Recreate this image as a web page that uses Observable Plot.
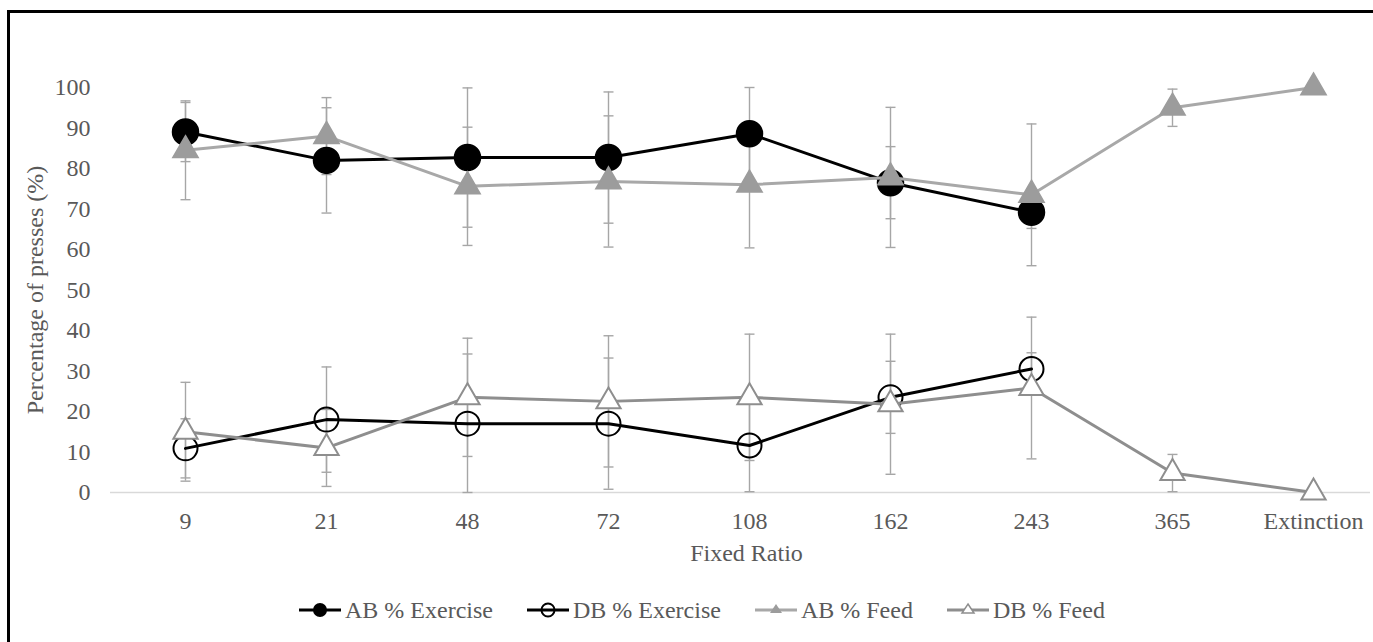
<!DOCTYPE html>
<html>
<head>
<meta charset="utf-8">
<script src="https://cdn.jsdelivr.net/npm/d3@7"></script>
<script src="https://cdn.jsdelivr.net/npm/@observablehq/plot@0.6"></script>
<style>
  html, body { margin: 0; padding: 0; background: #fff; overflow: hidden; }
  #wrap { position: relative; width: 1373px; height: 642px; overflow: hidden; }
  #frame { position: absolute; left: 7px; top: 10px; width: 1420px; height: 700px; border: 3px solid #000; pointer-events: none; }
  #chart { position: absolute; left: 0; top: 0; }
  #legend { position: absolute; left: 298px; top: 596px; height: 28px; display: flex; align-items: center;
            font-family: "Liberation Serif", "Times New Roman", Tinos, "DejaVu Serif", serif; font-size: 24px; color: #595959; white-space: nowrap; }
  .item { display: flex; align-items: center; margin-right: 33px; }
  .item svg { display: block; }
  .item span { margin-left: 3px; }
</style>
</head>
<body>
<div id="wrap">
  <div id="chart"></div>
  <div id="legend"></div>
  <div id="frame"></div>
</div>
<script>
// ---- data ----
const categories = ["9", "21", "48", "72", "108", "162", "243", "365", "Extinction"];
const abExercise = [89, 82, 82.7, 82.7, 88.6, 76.5, 69.2, null, null];
const dbExercise = [10.9, 18, 17, 17, 11.6, 23.5, 30.5, null, null];
const abFeed     = [84.5, 88, 75.6, 76.8, 76, 77.8, 73.5, 95, 100];
const dbFeed     = [15, 11, 23.5, 22.5, 23.5, 21.8, 25.8, 4.8, 0];
const exerciseErr = [7.3, 13, 17.2, 16.2, 11.4, 8.9, 4, null, null];
const feedErr     = [12.2, 9.5, 14.6, 16.2, 15.6, 17.3, 17.5, 4.6, 0];
const yTicks = [0, 10, 20, 30, 40, 50, 60, 70, 80, 90, 100];
const seriesNames = ["AB % Exercise", "DB % Exercise", "AB % Feed", "DB % Feed"];

const seriesDefs = [
  {name: seriesNames[0], values: abExercise, err: exerciseErr},
  {name: seriesNames[1], values: dbExercise, err: exerciseErr},
  {name: seriesNames[2], values: abFeed, err: feedErr},
  {name: seriesNames[3], values: dbFeed, err: feedErr}
];
const rows = seriesDefs.flatMap(s => categories.map((c, i) => ({
  cat: c, series: s.name, value: s.values[i], err: s.err[i]
}))).filter(d => d.value != null);
const errRows = rows.filter(d => d.err > 0).map(d => ({
  ...d, lo: Math.max(0, d.value - d.err), hi: d.value + d.err
}));
const of = name => rows.filter(d => d.series === name);

const capSymbol = {draw(ctx) { ctx.moveTo(-5, 0); ctx.lineTo(5, 0); }};

const FONT = "'Liberation Serif', 'Times New Roman', Tinos, 'DejaVu Serif', serif";

const chart = Plot.plot({
  width: 1373,
  height: 575,
  marginLeft: 110,
  marginRight: 3,
  marginTop: 87,
  marginBottom: 83,
  style: {fontFamily: FONT, fontSize: "24px", color: "#595959", background: "transparent"},
  x: {type: "point", domain: categories, range: [182, 1315], padding: 0},
  y: {domain: [0, 100]},
  marks: [
    Plot.ruleY([0], {stroke: "#d9d9d9", strokeWidth: 1.5}),
    Plot.axisY({ticks: yTicks, tickSize: 0, tickPadding: 20, label: null, fontFamily: FONT}),
    Plot.axisX({tickSize: 0, tickPadding: 19, label: null, fontFamily: FONT}),
    Plot.text(["Fixed Ratio"], {frameAnchor: "bottom", dx: 6, dy: 61, textAnchor: "middle", lineAnchor: "middle", fill: "#595959", fontFamily: FONT}),
    Plot.text(["Percentage of presses (%)"], {frameAnchor: "left", dx: -75, rotate: -90, textAnchor: "middle", lineAnchor: "middle", fill: "#595959", fontFamily: FONT}),
    // error bars
    Plot.ruleX(errRows, {x: "cat", y1: "lo", y2: "hi", stroke: "#a6a6a6", strokeWidth: 1.4}),
    Plot.dot(errRows, {x: "cat", y: "lo", symbol: capSymbol, fill: "none", stroke: "#a6a6a6", strokeWidth: 1.4}),
    Plot.dot(errRows, {x: "cat", y: "hi", symbol: capSymbol, fill: "none", stroke: "#a6a6a6", strokeWidth: 1.4}),
    // AB % Exercise
    Plot.line(of(seriesNames[0]), {x: "cat", y: "value", stroke: "#000", strokeWidth: 3}),
    Plot.dot(of(seriesNames[0]), {x: "cat", y: "value", r: 13, fill: "#000", stroke: "#000"}),
    // DB % Exercise
    Plot.line(of(seriesNames[1]), {x: "cat", y: "value", stroke: "#000", strokeWidth: 3}),
    Plot.dot(of(seriesNames[1]), {x: "cat", y: "value", r: 12, fill: "none", stroke: "#000", strokeWidth: 2}),
    // AB % Feed
    Plot.line(of(seriesNames[2]), {x: "cat", y: "value", stroke: "#a8a8a8", strokeWidth: 3}),
    Plot.dot(of(seriesNames[2]), {x: "cat", y: "value", symbol: "triangle", r: 9.4, fill: "#9c9c9c", stroke: "#9c9c9c"}),
    // DB % Feed
    Plot.line(of(seriesNames[3]), {x: "cat", y: "value", stroke: "#8e8e8e", strokeWidth: 3}),
    Plot.dot(of(seriesNames[3]), {x: "cat", y: "value", symbol: "triangle", r: 9, fill: "#fff", stroke: "#8e8e8e", strokeWidth: 2})
  ]
});
document.getElementById("chart").append(chart);

// ---- legend ----
const legendSpecs = [
  {name: seriesNames[0], line: "#000", marker: "circleFill"},
  {name: seriesNames[1], line: "#000", marker: "circleOpen"},
  {name: seriesNames[2], line: "#a8a8a8", marker: "triFill"},
  {name: seriesNames[3], line: "#8e8e8e", marker: "triOpen"}
];
const legend = document.getElementById("legend");
for (const s of legendSpecs) {
  const item = document.createElement("div");
  item.className = "item";
  let marker = "";
  if (s.marker === "circleFill") marker = `<circle cx="22" cy="12" r="7" fill="#000"/>`;
  if (s.marker === "circleOpen") marker = `<circle cx="22" cy="12" r="6.5" fill="none" stroke="#000" stroke-width="2"/>`;
  if (s.marker === "triFill") marker = `<path d="M22,6 L28,15 L16,15 Z" fill="#9c9c9c"/>`;
  if (s.marker === "triOpen") marker = `<path d="M22,6 L28,15 L16,15 Z" fill="#fff" stroke="#8e8e8e" stroke-width="1.5"/>`;
  item.innerHTML = `<svg width="44" height="24"><line x1="1" x2="43" y1="12" y2="12" stroke="${s.line}" stroke-width="3"/>${marker}</svg><span>${s.name}</span>`;
  legend.append(item);
}
</script>
</body>
</html>
